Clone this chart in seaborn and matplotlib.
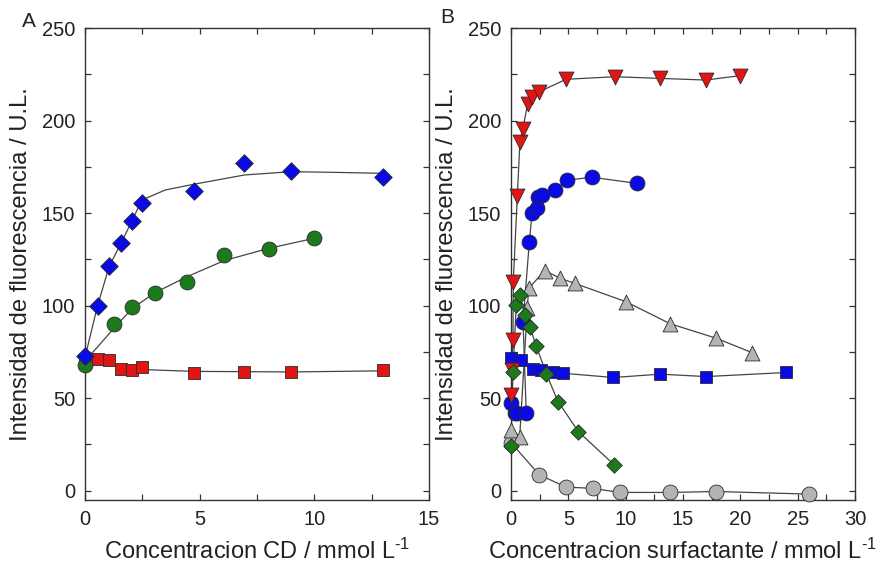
import numpy as np
import pandas as pd
import seaborn as sns
import matplotlib
matplotlib.use("Agg")
import matplotlib.pyplot as plt
from matplotlib.ticker import MultipleLocator, FuncFormatter

# ---- Panel A: fluorescence vs cyclodextrin concentration ----
a_diam_x = [0.0, 0.55, 1.05, 1.58, 2.06, 2.47, 4.75, 6.95, 9.0, 13.0]
a_diam_y = [73, 100, 121.7, 134, 146, 155.7, 161.8, 177.3, 172.6, 169.4]
a_diam_fit_x = [0.0, 0.55, 1.05, 1.58, 2.06, 2.47, 3.5, 4.75, 6.95, 9.0, 11.0, 13.0]
a_diam_fit_y = [72, 100, 121, 134, 146, 157, 162.5, 165.6, 170.6, 172.4, 172.0, 171.5]

a_circ_x = [0.0, 1.28, 2.06, 3.05, 4.46, 6.06, 8.02, 10.0]
a_circ_y = [68, 90.3, 99.4, 107, 112.7, 127.4, 130.8, 136.4]
a_circ_fit_x = [0.0, 1.28, 2.06, 3.05, 4.46, 6.06, 8.02, 10.0]
a_circ_fit_y = [70, 88, 98.5, 107, 115.7, 124.3, 131, 136.4]

a_sq_x = [0.0, 0.58, 1.06, 1.57, 2.06, 2.47, 4.75, 6.95, 9.0, 13.0]
a_sq_y = [69, 71.4, 70.4, 66, 65.5, 67.1, 63.5, 64.4, 63.9, 65]
a_sq_fit_x = [0.0, 1.0, 2.47, 4.75, 9.0, 13.0]
a_sq_fit_y = [70, 68, 65.5, 64.5, 64.2, 64.8]

# ---- Panel B: fluorescence vs surfactant concentration ----
b_tri_dn_x = [0.0, 0.05, 0.17, 0.2, 0.55, 0.78, 1.02, 1.45, 1.83, 2.47, 4.8, 9.07, 13.0, 17.0, 20.0]
b_tri_dn_y = [51.8, 65.3, 81.5, 113, 159.3, 188.6, 195.3, 208.8, 212.6, 215.6, 222.3, 223.7, 222.8, 221.9, 224.3]

b_circ_x = [0.03, 0.32, 0.55, 1.33, 1.05, 1.6, 1.83, 2.24, 2.33, 2.68, 3.84, 4.91, 7.03, 10.98]
b_circ_y = [47.3, 42, 42, 42, 91.4, 134.4, 149.9, 153, 158.6, 160, 162.5, 167.8, 169.4, 166.1]

b_tri_up_x = [0.0, 0.76, 1.42, 1.54, 2.96, 4.27, 5.58, 10.0, 13.9, 17.9, 21.0]
b_tri_up_y = [33, 29.3, 98.6, 109.4, 119, 114.8, 112, 102.2, 90.2, 82.4, 74.7]

b_diam_x = [0.0, 0.17, 0.46, 0.76, 1.2, 1.63, 2.2, 3.08, 4.1, 5.87, 9.0]
b_diam_y = [24.3, 64.4, 100.4, 105.8, 95, 88.7, 78.3, 63.2, 48.2, 32, 14]

b_sq_x = [0.0, 0.9, 1.92, 2.65, 3.66, 4.53, 8.92, 13.0, 17.0, 24.0]
b_sq_y = [71.6, 70.7, 66, 65.3, 64.4, 63.5, 61.2, 63, 61.7, 63.9]

b_gcirc_x = [0.0, 2.47, 4.8, 7.12, 9.5, 13.9, 17.9, 26.0]
b_gcirc_y = [26, 8.6, 2, 1.3, -0.9, -0.9, -0.4, -1.8]

xlabel_a = r"Concentracion CD / mmol L$^{\text{-}1}$"
xlabel_b = r"Concentracion surfactante / mmol L$^{\text{-}1}$"
ylabel = "Intensidad de fluorescencia / U.L."

BLUE = "#0a0ae6"
GREEN = "#1c7a1c"
RED = "#e31414"
GRAY = "#b4b4b4"
EDGE = "#2a2a2a"
LINE = "#444444"
TEXT = "#222222"

sns.set_theme(style="ticks")
plt.rcParams["font.family"] = ["Liberation Sans", "DejaVu Sans"]
plt.rcParams["mathtext.fontset"] = "custom"
plt.rcParams["mathtext.rm"] = "Liberation Sans"
plt.rcParams["mathtext.default"] = "regular"

fig = plt.figure(figsize=(8.85, 5.71), dpi=100)
ax_a = fig.add_axes([0.0960, 0.1243, 0.3887, 0.8266])
ax_b = fig.add_axes([0.5774, 0.1243, 0.3887, 0.8266])


def curve(ax, x, y):
    sns.lineplot(x=x, y=y, ax=ax, color=LINE, lw=0.9, sort=False,
                 estimator=None, zorder=2, legend=False)


def points(ax, x, y, marker, color, size):
    sns.scatterplot(x=x, y=y, ax=ax, marker=marker, color=color, s=size,
                    edgecolor=EDGE, linewidth=0.6, zorder=3, legend=False,
                    clip_on=False)


# Panel A
curve(ax_a, a_sq_fit_x, a_sq_fit_y)
curve(ax_a, a_circ_fit_x, a_circ_fit_y)
curve(ax_a, a_diam_fit_x, a_diam_fit_y)
points(ax_a, a_sq_x, a_sq_y, "s", RED, 75)
points(ax_a, a_circ_x, a_circ_y, "o", GREEN, 115)
points(ax_a, a_diam_x, a_diam_y, "D", BLUE, 80)

# Panel B
for x, y in [(b_gcirc_x, b_gcirc_y), (b_sq_x, b_sq_y), (b_tri_up_x, b_tri_up_y),
             (b_diam_x, b_diam_y), (b_circ_x, b_circ_y), (b_tri_dn_x, b_tri_dn_y)]:
    curve(ax_b, x, y)
points(ax_b, b_gcirc_x, b_gcirc_y, "o", GRAY, 115)
points(ax_b, b_tri_up_x, b_tri_up_y, "^", GRAY, 115)
points(ax_b, b_sq_x, b_sq_y, "s", BLUE, 75)
points(ax_b, b_circ_x, b_circ_y, "o", BLUE, 115)
points(ax_b, b_tri_dn_x, b_tri_dn_y, "v", RED, 115)
points(ax_b, b_diam_x, b_diam_y, "D", GREEN, 62)


def every(step):
    return FuncFormatter(lambda v, p: f"{v:g}" if abs(v / step - round(v / step)) < 1e-6 else "")


for ax, xmax, xl in [(ax_a, 15, xlabel_a), (ax_b, 30, xlabel_b)]:
    ax.set_xlim(0, xmax)
    ax.set_ylim(-5, 250)
    ax.xaxis.set_major_locator(MultipleLocator(2.5))
    ax.xaxis.set_major_formatter(every(5))
    ax.yaxis.set_major_locator(MultipleLocator(25))
    ax.yaxis.set_major_formatter(every(50))
    ax.tick_params(direction="in", top=True, right=True, length=4, width=0.9,
                   color="#333333", labelsize=14.5, labelcolor=TEXT, pad=7)
    for s in ax.spines.values():
        s.set_color("#333333")
        s.set_linewidth(1.0)
    ax.set_xlabel(xl, fontsize=17, color=TEXT, labelpad=7)
    ax.set_ylabel(ylabel, fontsize=17.2, color=TEXT, labelpad=7)

fig.text(0.025, 0.945, "A", fontsize=15, color=TEXT, ha="left", va="bottom")
fig.text(0.497, 0.952, "B", fontsize=15, color=TEXT, ha="left", va="bottom")

fig.savefig("out.png", dpi=100)
